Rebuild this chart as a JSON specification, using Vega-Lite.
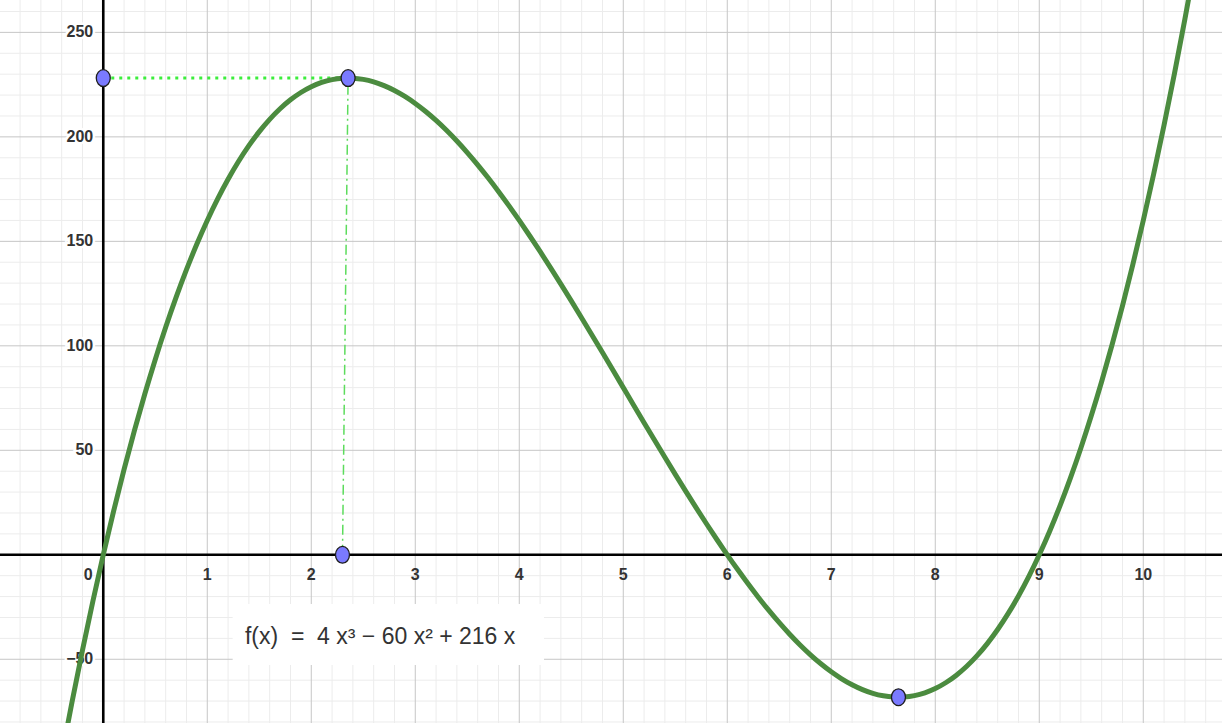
{
  "$schema": "https://vega.github.io/schema/vega-lite/v6.json",
  "width": 1222,
  "height": 723,
  "autosize": {"type": "none"},
  "padding": 0,
  "background": "white",
  "config": {"view": {"stroke": null}},
  "datasets": {
    "curve": [
      {"x": -0.4, "y": -96.256}, {"x": -0.3, "y": -70.308}, {"x": -0.2, "y": -45.632}, {"x": -0.1, "y": -22.204},
      {"x": 0, "y": 0}, {"x": 0.1, "y": 21.004}, {"x": 0.2, "y": 40.832}, {"x": 0.3, "y": 59.508}, {"x": 0.4, "y": 77.056},
      {"x": 0.5, "y": 93.5}, {"x": 0.6, "y": 108.864}, {"x": 0.7, "y": 123.172}, {"x": 0.8, "y": 136.448}, {"x": 0.9, "y": 148.716},
      {"x": 1.0, "y": 160}, {"x": 1.1, "y": 170.324}, {"x": 1.2, "y": 179.712}, {"x": 1.3, "y": 188.188}, {"x": 1.4, "y": 195.776},
      {"x": 1.5, "y": 202.5}, {"x": 1.6, "y": 208.384}, {"x": 1.7, "y": 213.452}, {"x": 1.8, "y": 217.728}, {"x": 1.9, "y": 221.236},
      {"x": 2.0, "y": 224}, {"x": 2.1, "y": 226.044}, {"x": 2.2, "y": 227.392}, {"x": 2.3, "y": 228.068}, {"x": 2.354, "y": 228.16},
      {"x": 2.4, "y": 228.096}, {"x": 2.5, "y": 227.5}, {"x": 2.6, "y": 226.304}, {"x": 2.7, "y": 224.532}, {"x": 2.8, "y": 222.208},
      {"x": 2.9, "y": 219.356}, {"x": 3.0, "y": 216}, {"x": 3.1, "y": 212.164}, {"x": 3.2, "y": 207.872}, {"x": 3.3, "y": 203.148},
      {"x": 3.4, "y": 198.016}, {"x": 3.5, "y": 192.5}, {"x": 3.6, "y": 186.624}, {"x": 3.7, "y": 180.412}, {"x": 3.8, "y": 173.888},
      {"x": 3.9, "y": 167.076}, {"x": 4.0, "y": 160}, {"x": 4.1, "y": 152.684}, {"x": 4.2, "y": 145.152}, {"x": 4.3, "y": 137.428},
      {"x": 4.4, "y": 129.536}, {"x": 4.5, "y": 121.5}, {"x": 4.6, "y": 113.344}, {"x": 4.7, "y": 105.092}, {"x": 4.8, "y": 96.768},
      {"x": 4.9, "y": 88.396}, {"x": 5.0, "y": 80}, {"x": 5.1, "y": 71.604}, {"x": 5.2, "y": 63.232}, {"x": 5.3, "y": 54.908},
      {"x": 5.4, "y": 46.656}, {"x": 5.5, "y": 38.5}, {"x": 5.6, "y": 30.464}, {"x": 5.7, "y": 22.572}, {"x": 5.8, "y": 14.848},
      {"x": 5.9, "y": 7.316}, {"x": 6.0, "y": 0}, {"x": 6.1, "y": -7.076}, {"x": 6.2, "y": -13.888}, {"x": 6.3, "y": -20.412},
      {"x": 6.4, "y": -26.624}, {"x": 6.5, "y": -32.5}, {"x": 6.6, "y": -38.016}, {"x": 6.7, "y": -43.148}, {"x": 6.8, "y": -47.872},
      {"x": 6.9, "y": -52.164}, {"x": 7.0, "y": -56}, {"x": 7.1, "y": -59.356}, {"x": 7.2, "y": -62.208}, {"x": 7.3, "y": -64.532},
      {"x": 7.4, "y": -66.304}, {"x": 7.5, "y": -67.5}, {"x": 7.6, "y": -68.096}, {"x": 7.646, "y": -68.16}, {"x": 7.7, "y": -68.068},
      {"x": 7.8, "y": -67.392}, {"x": 7.9, "y": -66.044}, {"x": 8.0, "y": -64}, {"x": 8.1, "y": -61.236}, {"x": 8.2, "y": -57.728},
      {"x": 8.3, "y": -53.452}, {"x": 8.4, "y": -48.384}, {"x": 8.5, "y": -42.5}, {"x": 8.6, "y": -35.776}, {"x": 8.7, "y": -28.188},
      {"x": 8.8, "y": -19.712}, {"x": 8.9, "y": -10.324}, {"x": 9.0, "y": 0}, {"x": 9.1, "y": 11.284}, {"x": 9.2, "y": 23.552},
      {"x": 9.3, "y": 36.828}, {"x": 9.4, "y": 51.136}, {"x": 9.5, "y": 66.5}, {"x": 9.6, "y": 82.944}, {"x": 9.7, "y": 100.492},
      {"x": 9.8, "y": 119.168}, {"x": 9.9, "y": 138.996}, {"x": 10.0, "y": 160}, {"x": 10.1, "y": 182.204}, {"x": 10.2, "y": 205.632},
      {"x": 10.3, "y": 230.308}, {"x": 10.4, "y": 256.256}, {"x": 10.5, "y": 283.5}, {"x": 10.6, "y": 312.064}
    ],
    "points": [
      {"x": 0, "y": 228.16},
      {"x": 2.354, "y": 228.16},
      {"x": 2.3, "y": 0},
      {"x": 7.646, "y": -68.16}
    ],
    "hguide": [
      {"x": 0, "y": 228.16},
      {"x": 2.354, "y": 228.16}
    ],
    "vguide": [
      {"x": 2.3, "y": 0},
      {"x": 2.354, "y": 228.16}
    ],
    "origin": [{"x": 0, "y": 0}],
    "xminor": [
      {"x": -0.8}, {"x": -0.6}, {"x": -0.4}, {"x": -0.2},
      {"x": 0.2}, {"x": 0.4}, {"x": 0.6}, {"x": 0.8}, {"x": 1.2}, {"x": 1.4}, {"x": 1.6}, {"x": 1.8},
      {"x": 2.2}, {"x": 2.4}, {"x": 2.6}, {"x": 2.8}, {"x": 3.2}, {"x": 3.4}, {"x": 3.6}, {"x": 3.8},
      {"x": 4.2}, {"x": 4.4}, {"x": 4.6}, {"x": 4.8}, {"x": 5.2}, {"x": 5.4}, {"x": 5.6}, {"x": 5.8},
      {"x": 6.2}, {"x": 6.4}, {"x": 6.6}, {"x": 6.8}, {"x": 7.2}, {"x": 7.4}, {"x": 7.6}, {"x": 7.8},
      {"x": 8.2}, {"x": 8.4}, {"x": 8.6}, {"x": 8.8}, {"x": 9.2}, {"x": 9.4}, {"x": 9.6}, {"x": 9.8},
      {"x": 10.2}, {"x": 10.4}, {"x": 10.6}
    ],
    "xmajor": [
      {"x": 1}, {"x": 2}, {"x": 3}, {"x": 4}, {"x": 5}, {"x": 6}, {"x": 7}, {"x": 8}, {"x": 9}, {"x": 10}
    ],
    "yminor": [
      {"y": -80}, {"y": -70}, {"y": -60}, {"y": -40}, {"y": -30}, {"y": -20}, {"y": -10},
      {"y": 10}, {"y": 20}, {"y": 30}, {"y": 40}, {"y": 60}, {"y": 70}, {"y": 80}, {"y": 90},
      {"y": 110}, {"y": 120}, {"y": 130}, {"y": 140}, {"y": 160}, {"y": 170}, {"y": 180}, {"y": 190},
      {"y": 210}, {"y": 220}, {"y": 230}, {"y": 240}, {"y": 260}
    ],
    "ymajor": [
      {"y": -50}, {"y": 50}, {"y": 100}, {"y": 150}, {"y": 200}, {"y": 250}
    ],
    "xlabels": [
      {"x": 1, "label": "1"}, {"x": 2, "label": "2"}, {"x": 3, "label": "3"}, {"x": 4, "label": "4"}, {"x": 5, "label": "5"},
      {"x": 6, "label": "6"}, {"x": 7, "label": "7"}, {"x": 8, "label": "8"}, {"x": 9, "label": "9"}, {"x": 10, "label": "10"}
    ],
    "zerolabel": [{"x": 0, "label": "0"}],
    "ylabels": [
      {"y": 250, "label": "250"}, {"y": 200, "label": "200"}, {"y": 150, "label": "150"},
      {"y": 100, "label": "100"}, {"y": 50, "label": "50"}, {"y": -50, "label": "−50"}
    ],
    "formula": [
      {"x1": 1.244, "x2": 4.238, "y1": -23.5, "y2": -52.7, "tx": 1.362, "ty": -39.3, "text": "f(x)\u00a0\u00a0=\u00a0\u00a04 x³ − 60 x² + 216 x"}
    ]
  },
  "layer": [
    {
      "data": {"name": "xminor"},
      "mark": {"type": "rule", "color": "#ececec", "strokeWidth": 1},
      "encoding": {
        "x": {"field": "x", "type": "quantitative", "scale": {"domain": [-0.993, 10.757], "nice": false, "zero": false}, "axis": null}
      }
    },
    {
      "data": {"name": "yminor"},
      "mark": {"type": "rule", "color": "#ececec", "strokeWidth": 1},
      "encoding": {
        "y": {"field": "y", "type": "quantitative", "scale": {"domain": [-80.5, 265.5], "nice": false, "zero": false}, "axis": null}
      }
    },
    {
      "data": {"name": "xmajor"},
      "mark": {"type": "rule", "color": "#c6c6c6", "strokeWidth": 1},
      "encoding": {
        "x": {"field": "x", "type": "quantitative", "scale": {"domain": [-0.993, 10.757], "nice": false, "zero": false}, "axis": null}
      }
    },
    {
      "data": {"name": "ymajor"},
      "mark": {"type": "rule", "color": "#c6c6c6", "strokeWidth": 1},
      "encoding": {
        "y": {"field": "y", "type": "quantitative", "scale": {"domain": [-80.5, 265.5], "nice": false, "zero": false}, "axis": null}
      }
    },
    {
      "data": {"name": "origin"},
      "mark": {"type": "rule", "color": "black", "strokeWidth": 2.6},
      "encoding": {
        "y": {"field": "y", "type": "quantitative", "scale": {"domain": [-80.5, 265.5], "nice": false, "zero": false}, "axis": null}
      }
    },
    {
      "data": {"name": "origin"},
      "mark": {"type": "rule", "color": "black", "strokeWidth": 2.6},
      "encoding": {
        "x": {"field": "x", "type": "quantitative", "scale": {"domain": [-0.993, 10.757], "nice": false, "zero": false}, "axis": null}
      }
    },
    {
      "data": {"name": "xlabels"},
      "mark": {"type": "text", "font": "Liberation Sans", "fontSize": 16, "fontWeight": "bold", "color": "#333", "align": "center", "baseline": "middle", "dy": 20},
      "encoding": {
        "x": {"field": "x", "type": "quantitative", "scale": {"domain": [-0.993, 10.757], "nice": false, "zero": false}, "axis": null},
        "y": {"datum": 0, "type": "quantitative", "scale": {"domain": [-80.5, 265.5], "nice": false, "zero": false}, "axis": null},
        "text": {"field": "label"}
      }
    },
    {
      "data": {"name": "zerolabel"},
      "mark": {"type": "text", "font": "Liberation Sans", "fontSize": 16, "fontWeight": "bold", "color": "#333", "align": "center", "baseline": "middle", "dy": 20, "dx": -15},
      "encoding": {
        "x": {"field": "x", "type": "quantitative", "scale": {"domain": [-0.993, 10.757], "nice": false, "zero": false}, "axis": null},
        "y": {"datum": 0, "type": "quantitative", "scale": {"domain": [-80.5, 265.5], "nice": false, "zero": false}, "axis": null},
        "text": {"field": "label"}
      }
    },
    {
      "data": {"name": "ylabels"},
      "mark": {"type": "text", "font": "Liberation Sans", "fontSize": 16, "fontWeight": "bold", "stroke": "white", "strokeWidth": 5, "fill": "white", "align": "right", "baseline": "middle", "dx": -10},
      "encoding": {
        "x": {"datum": 0, "type": "quantitative", "scale": {"domain": [-0.993, 10.757], "nice": false, "zero": false}, "axis": null},
        "y": {"field": "y", "type": "quantitative", "scale": {"domain": [-80.5, 265.5], "nice": false, "zero": false}, "axis": null},
        "text": {"field": "label"}
      }
    },
    {
      "data": {"name": "ylabels"},
      "mark": {"type": "text", "font": "Liberation Sans", "fontSize": 16, "fontWeight": "bold", "color": "#333", "align": "right", "baseline": "middle", "dx": -10},
      "encoding": {
        "x": {"datum": 0, "type": "quantitative", "scale": {"domain": [-0.993, 10.757], "nice": false, "zero": false}, "axis": null},
        "y": {"field": "y", "type": "quantitative", "scale": {"domain": [-80.5, 265.5], "nice": false, "zero": false}, "axis": null},
        "text": {"field": "label"}
      }
    },
    {
      "data": {"name": "formula"},
      "mark": {"type": "rect", "color": "white"},
      "encoding": {
        "x": {"field": "x1", "type": "quantitative", "scale": {"domain": [-0.993, 10.757], "nice": false, "zero": false}, "axis": null},
        "x2": {"field": "x2"},
        "y": {"field": "y1", "type": "quantitative", "scale": {"domain": [-80.5, 265.5], "nice": false, "zero": false}, "axis": null},
        "y2": {"field": "y2"}
      }
    },
    {
      "data": {"name": "formula"},
      "mark": {"type": "text", "font": "Liberation Sans", "fontSize": 23, "color": "#333", "align": "left", "baseline": "middle"},
      "encoding": {
        "x": {"field": "tx", "type": "quantitative", "scale": {"domain": [-0.993, 10.757], "nice": false, "zero": false}, "axis": null},
        "y": {"field": "ty", "type": "quantitative", "scale": {"domain": [-80.5, 265.5], "nice": false, "zero": false}, "axis": null},
        "text": {"field": "text"}
      }
    },
    {
      "data": {"name": "hguide"},
      "mark": {"type": "line", "color": "#3ced3c", "strokeWidth": 3, "strokeDash": [3, 5]},
      "encoding": {
        "x": {"field": "x", "type": "quantitative", "scale": {"domain": [-0.993, 10.757], "nice": false, "zero": false}, "axis": null},
        "y": {"field": "y", "type": "quantitative", "scale": {"domain": [-80.5, 265.5], "nice": false, "zero": false}, "axis": null}
      }
    },
    {
      "data": {"name": "vguide"},
      "mark": {"type": "line", "color": "#5cdc5c", "strokeWidth": 1.5, "strokeDash": [10, 4, 2, 4]},
      "encoding": {
        "x": {"field": "x", "type": "quantitative", "scale": {"domain": [-0.993, 10.757], "nice": false, "zero": false}, "axis": null},
        "y": {"field": "y", "type": "quantitative", "scale": {"domain": [-80.5, 265.5], "nice": false, "zero": false}, "axis": null}
      }
    },
    {
      "data": {"name": "curve"},
      "mark": {"type": "line", "color": "#4b8b3f", "strokeWidth": 5, "interpolate": "monotone", "clip": true},
      "encoding": {
        "x": {"field": "x", "type": "quantitative", "scale": {"domain": [-0.993, 10.757], "nice": false, "zero": false}, "axis": null},
        "y": {"field": "y", "type": "quantitative", "scale": {"domain": [-80.5, 265.5], "nice": false, "zero": false}, "axis": null}
      }
    },
    {
      "data": {"name": "points"},
      "mark": {"type": "point", "filled": true, "shape": "M-1,0A1,1.2,0,1,1,1,0A1,1.2,0,1,1,-1,0Z", "size": 196, "fill": "#7a7aff", "stroke": "#1e1e1e", "strokeWidth": 1.3, "opacity": 1},
      "encoding": {
        "x": {"field": "x", "type": "quantitative", "scale": {"domain": [-0.993, 10.757], "nice": false, "zero": false}, "axis": null},
        "y": {"field": "y", "type": "quantitative", "scale": {"domain": [-80.5, 265.5], "nice": false, "zero": false}, "axis": null}
      }
    }
  ]
}
